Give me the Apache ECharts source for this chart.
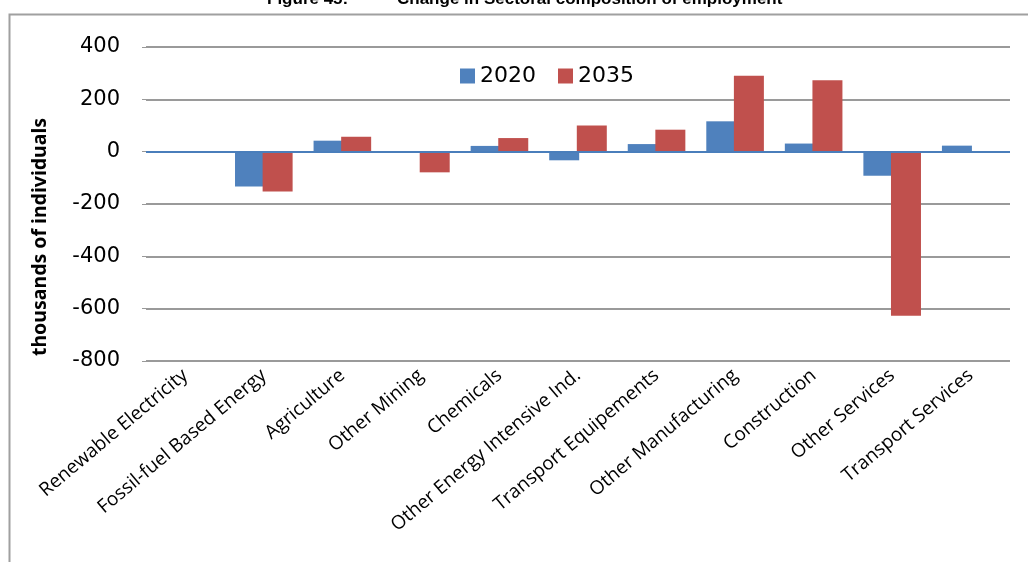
<!DOCTYPE html>
<html>
<head>
<meta charset="utf-8">
<script src="https://cdn.jsdelivr.net/npm/echarts@6/dist/echarts.min.js"></script>
<style>
  html, body { margin: 0; padding: 0; background: #fff; }
  #chart { width: 1028px; height: 562px; }
</style>
</head>
<body>
<div id="chart"></div>
<script>
  // sectors on the x axis
  var categories = ['Renewable Electricity', 'Fossil-fuel Based Energy', 'Agriculture', 'Other Mining',
    'Chemicals', 'Other Energy Intensive Ind.', 'Transport Equipements', 'Other Manufacturing',
    'Construction', 'Other Services', 'Transport Services'];
  // change in employment, thousands of individuals
  var values2020 = [-3, -133, 42, -3, 22, -33, 29, 116, 31, -92, 23];
  var values2035 = [0, -152, 57, -79, 52, 100, 84, 290, 273, -627, 0];
  var yTicks = [-800, -600, -400, -200, 0, 200, 400];

  var chart = echarts.init(document.getElementById('chart'));
  var option = {
    animation: false,
    backgroundColor: '#fff',
    title: [
      {
        text: 'Figure 45:',
        left: 262, top: -14,
        textStyle: { fontFamily: 'Liberation Sans', fontWeight: 'bold', fontSize: 17, color: '#000' }
      },
      {
        text: 'Change in Sectoral composition of employment',
        left: 392, top: -14,
        textStyle: { fontFamily: 'Liberation Sans', fontWeight: 'bold', fontSize: 17, color: '#000' }
      }
    ],
    graphic: [
      {
        type: 'rect', left: 7, top: 12, silent: true,
        shape: { width: 1100, height: 600 },
        style: { fill: 'none', stroke: '#a0a0a0', lineWidth: 2 }
      },
      {
        type: 'text', x: 40, y: 237, rotation: Math.PI / 2,
        style: {
          text: 'thousands of individuals', align: 'center', verticalAlign: 'middle',
          font: 'bold 19.5px "Noto Sans", sans-serif', fill: '#000'
        }
      }
    ],
    legend: {
      left: 455, top: 60,
      itemWidth: 15, itemHeight: 15, itemGap: 22,
      icon: 'rect',
      textStyle: { fontFamily: 'DejaVu Sans', fontSize: 22, color: '#000' },
      data: ['2020', '2035']
    },
    grid: { left: 146, right: 18, top: 47, bottom: 201 },
    xAxis: {
      type: 'category',
      data: categories,
      axisLine: { show: false, onZero: false },
      axisTick: { show: false },
      axisLabel: {
        interval: 0, rotate: 40, margin: 12,
        fontFamily: 'Open Sans', fontSize: 19, color: '#000'
      }
    },
    yAxis: {
      type: 'value',
      min: yTicks[0], max: yTicks[yTicks.length - 1], interval: 200,
      axisLine: { show: false },
      axisTick: { show: true, length: 4, lineStyle: { color: '#999' } },
      axisLabel: { fontFamily: 'DejaVu Sans', fontSize: 21, color: '#000', margin: 26 },
      splitLine: { lineStyle: { color: '#9a9a9a', width: 2 } }
    },
    series: [
      {
        name: '2020', type: 'bar', data: values2020,
        barWidth: 30, barGap: '-8%',
        itemStyle: { color: '#4f81bd' },
        markLine: {
          silent: true, symbol: 'none', label: { show: false },
          lineStyle: { color: '#4a7ebb', width: 2, type: 'solid' },
          data: [{ yAxis: 0 }]
        }
      },
      {
        name: '2035', type: 'bar', data: values2035,
        barWidth: 30,
        itemStyle: { color: '#c0504d' }
      }
    ]
  };
  chart.setOption(option);
</script>
</body>
</html>
